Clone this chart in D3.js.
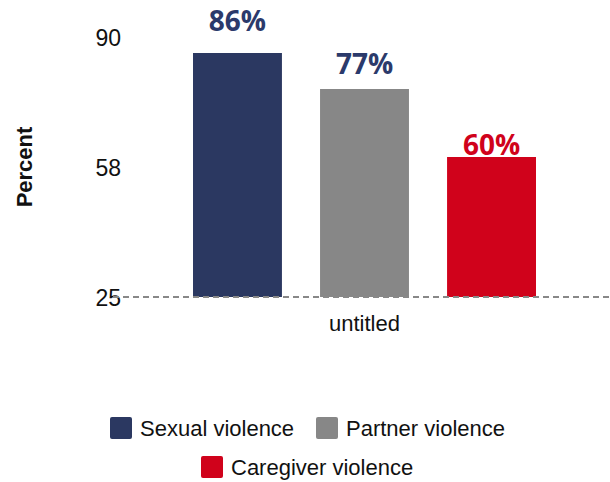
<!DOCTYPE html>
<html>
<head>
<meta charset="utf-8">
<script src="https://cdn.jsdelivr.net/npm/d3@7"></script>
<style>
  body { margin: 0; background: #fff; }
  text { font-family: "Liberation Sans", Arial, sans-serif; }
</style>
</head>
<body>
<div id="chart"></div>
<script>
const categories = ["Sexual violence", "Partner violence", "Caregiver violence"];
const values = [86, 77, 60];
const colors = ["#2b3861", "#878787", "#d0021b"];
const labelColors = ["#2b3a6b", "#2b3a6b", "#d0021b"];
const tickValues = [25, 57.5, 90];
const groupLabel = "untitled";

const canvas = { w: 610, h: 482 };

const svg = d3.select("#chart")
    .append("svg")
    .attr("width", canvas.w)
    .attr("height", canvas.h);

const y = d3.scaleLinear().domain([25, 90]).range([297, 37]);
// value labels sit on their own scale in the original
const yLabel = d3.scaleLinear().domain([25, 90]).range([322, 12]);

const x = d3.scaleBand()
    .domain(categories)
    .range([129.5, 599.5])
    .paddingInner(0.3)
    .paddingOuter(0.5);

// y ticks
const yAxis = d3.axisLeft(y)
    .tickValues(tickValues)
    .tickFormat(d3.format(".0f"))
    .tickSize(0)
    .tickPadding(0);

const ya = svg.append("g").attr("transform", "translate(121,0)").call(yAxis);
ya.select(".domain").remove();
ya.selectAll("text")
    .attr("font-size", 23)
    .attr("fill", "#111")
    .attr("dy", "0.36em");

svg.append("text")
    .attr("transform", "translate(32,167) rotate(-90)")
    .attr("text-anchor", "middle")
    .attr("font-size", 22)
    .attr("font-weight", "bold")
    .attr("fill", "#111")
    .text("Percent");

// bars
svg.selectAll("rect.bar")
    .data(values)
    .join("rect")
    .attr("class", "bar")
    .attr("x", (d, i) => x(categories[i]))
    .attr("width", x.bandwidth())
    .attr("y", d => y(d))
    .attr("height", d => y(25) - y(d))
    .attr("fill", (d, i) => colors[i]);

// baseline
svg.append("line")
    .attr("x1", 113).attr("x2", canvas.w)
    .attr("y1", y(25)).attr("y2", y(25))
    .attr("stroke", "#888")
    .attr("stroke-width", 2)
    .attr("stroke-dasharray", "6,4");

// value labels
svg.selectAll("text.val")
    .data(values)
    .join("text")
    .attr("class", "val")
    .attr("x", (d, i) => x(categories[i]) + x.bandwidth() / 2)
    .attr("y", d => yLabel(d))
    .attr("text-anchor", "middle")
    .style("font-family", "'Open Sans', sans-serif")
    .attr("font-weight", "bold")
    .attr("font-size", 28)
    .attr("fill", (d, i) => labelColors[i])
    .text(d => d + "%");

svg.append("text")
    .attr("x", x(categories[1]) + x.bandwidth() / 2)
    .attr("y", 331)
    .attr("text-anchor", "middle")
    .attr("font-size", 22)
    .attr("fill", "#111")
    .text(groupLabel);

// legend
const legendPos = [[110, 428], [316, 428], [201, 467]];
const lg = svg.selectAll("g.leg")
    .data(categories)
    .join("g")
    .attr("class", "leg")
    .attr("transform", (d, i) => `translate(${legendPos[i][0]},${legendPos[i][1]})`);

lg.append("rect")
    .attr("x", 0).attr("y", -11)
    .attr("width", 22).attr("height", 22)
    .attr("rx", 2)
    .attr("fill", (d, i) => colors[i]);

lg.append("text")
    .attr("x", 30)
    .attr("dy", "0.36em")
    .attr("font-size", 22)
    .attr("fill", "#111")
    .text(d => d);
</script>
</body>
</html>
